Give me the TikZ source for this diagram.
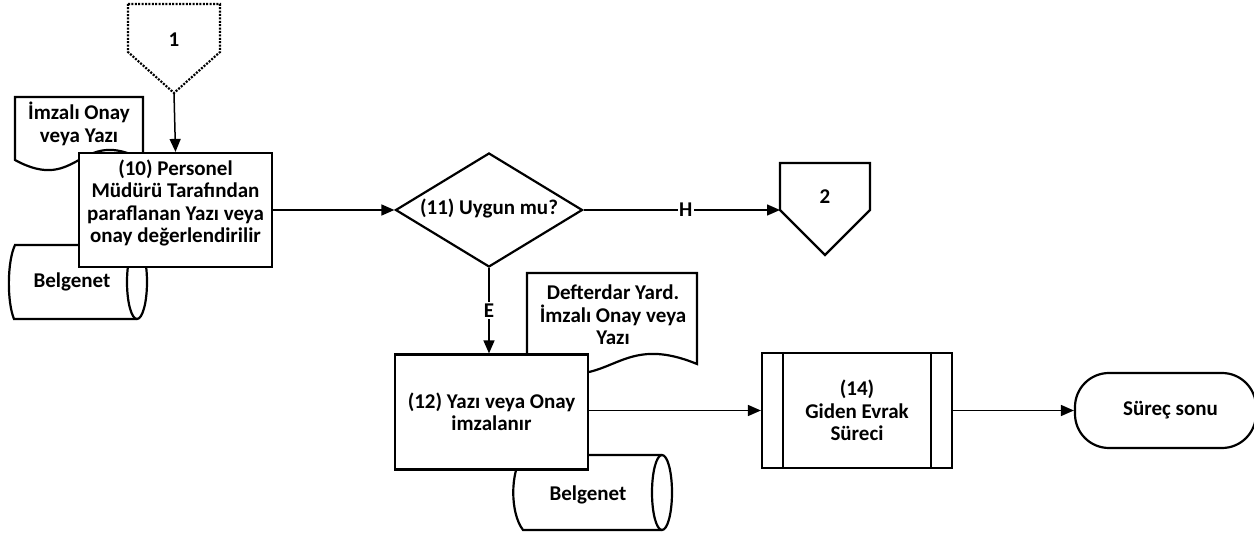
\documentclass[tikz,border=0pt]{standalone}
\usepackage{fontspec}
\setmainfont{Carlito}
\usetikzlibrary{shapes.geometric, arrows.meta}
\begin{document}
\begin{tikzpicture}[x=1pt, y=-1pt,
  fshape/.style={draw, line width=2.2pt, fill=white},
  arr/.style={line width=1.5pt, -{Triangle[length=13pt,width=11pt]}},
  txt/.style={font=\bfseries\fontsize{21}{22.5}\selectfont, align=center, inner sep=0pt},
  lbl/.style={font=\bfseries\fontsize{21}{22.5}\selectfont, fill=white, inner sep=1.5pt}]
\useasboundingbox (0,0) rectangle (1254,537);

% documents and storage (behind the boxes)
\draw[fshape] (15,97) -- (143,97) -- (143,160) .. controls (79,125) and (79,195) .. (15,160) -- cycle;
\node[txt] (doc1) at (79,124) {İmzalı Onay\\veya Yazı};

\draw[fshape] (527,273) -- (697,273) -- (697,364) .. controls (612,329) and (612,399) .. (527,364) -- cycle;
\node[txt] (doc2) at (613,315) {Defterdar Yard.\\İmzalı Onay veya\\Yazı};

\draw[fshape] (137,245) -- (15,245) .. controls (7,262) and (7,302) .. (14,319) -- (137,319);
\draw[fshape] (137,282) ellipse [x radius=10, y radius=37];
\node[txt] (bg1) at (72,282) {Belgenet};

\draw[fshape] (662,455) -- (523,455) .. controls (510,472) and (510,513) .. (523,530) -- (662,530);
\draw[fshape] (662,492.5) ellipse [x radius=10, y radius=37.5];
\node[txt] (bg2) at (588,495) {Belgenet};

% off-page connectors
\draw[fshape, dash pattern=on 2pt off 1.4pt] (128,4) -- (220,4) -- (220,52) -- (174,93) -- (128,52) -- cycle;
\coordinate (c1p) at (174,93);
\node[txt] (c1t) at (174,40) {1};

\draw[fshape] (780,163) -- (870,163) -- (870,210) -- (825,255) -- (780,210) -- cycle;
\coordinate (c2in) at (780,210);
\node[txt] (c2t) at (825,197) {2};

% process boxes
\node[fshape, minimum width=193pt, minimum height=114pt, inner sep=0pt] (b10) at (175.5,210) {};
\node[txt] (b10t) at (175.5,203)
  {(10) Personel\\Müdürü Tarafından\\paraflanan Yazı veya\\onay değerlendirilir};

\node[fshape, diamond, minimum width=187pt, minimum height=114pt, inner sep=0pt] (d11) at (489,210) {};
\node[txt] (d11t) at (489,208) {(11) Uygun mu?};

\node[fshape, txt, minimum width=193pt, minimum height=115pt] (b12) at (491.5,412)
  {(12) Yazı veya Onay\\imzalanır};

\node[fshape, txt, minimum width=190pt, minimum height=115pt] (p14) at (857,410.5)
  {(14)\\Giden Evrak\\Süreci};
\draw[line width=2.2pt] ([xshift=22pt]p14.north west) -- ([xshift=22pt]p14.south west);
\draw[line width=2.2pt] ([xshift=-22pt]p14.north east) -- ([xshift=-22pt]p14.south east);

\node[fshape, txt, rounded corners=34pt, minimum width=181pt, minimum height=75pt] (term) at (1165.5,410.5)
  {\hspace*{10pt}Süreç sonu};

% connectors
\draw[arr] (c1p) -- (b10.north);
\draw[arr] (b10.east) -- (d11.west);
\draw[arr] (d11.east) -- node[lbl, pos=0.52] {H} (c2in);
\draw[arr] (d11.south) -- node[lbl, pos=0.5] {E} (d11.south |- b12.north);
\draw[arr] (b12.east |- p14.west) -- (p14.west);
\draw[arr] (p14.east) -- (term.west);
\end{tikzpicture}
\end{document}
